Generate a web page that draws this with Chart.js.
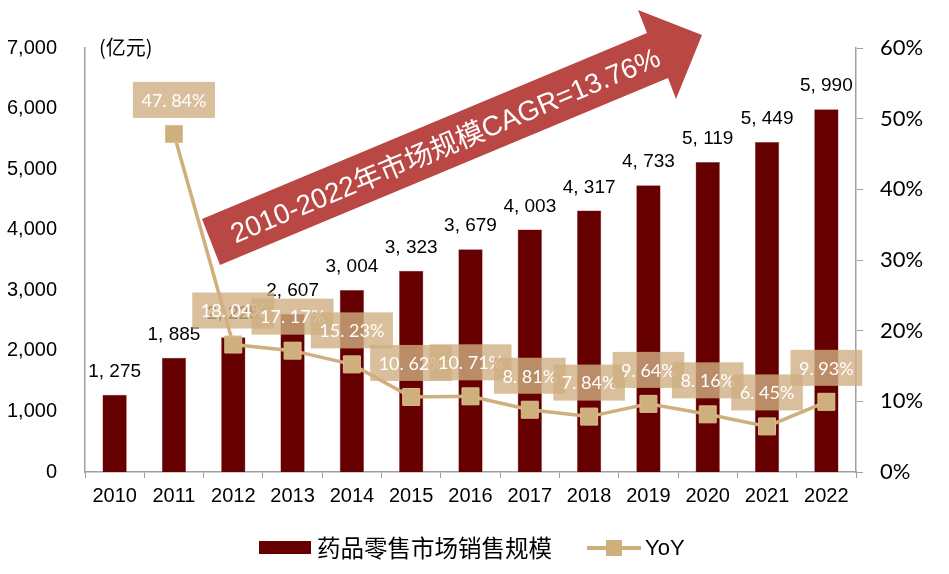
<!DOCTYPE html>
<html>
<head>
<meta charset="utf-8">
<script src="https://cdn.jsdelivr.net/npm/chart.js@4.4.1/dist/chart.umd.min.js"></script>
<style>
  body { margin: 0; background: #fff; }
</style>
</head>
<body>
<canvas id="mychart" width="949" height="574"></canvas>
<script>
const years = ['2010', '2011', '2012', '2013', '2014', '2015', '2016', '2017', '2018', '2019', '2020', '2021', '2022'];
const sales = [1275, 1885, 2225, 2607, 3004, 3323, 3679, 4003, 4317, 4733, 5119, 5449, 5990];
const yoy = [null, 47.84, 18.04, 17.17, 15.23, 10.62, 10.71, 8.81, 7.84, 9.64, 8.16, 6.45, 9.93];
const salesTicks = [0, 1000, 2000, 3000, 4000, 5000, 6000, 7000];
const yoyTicks = [0, 10, 20, 30, 40, 50, 60];

const barColor = '#660000';
const tan = '#CFAF7C';
const latin = '"Liberation Sans", Arial, sans-serif';
const cjk = '"Liberation Sans", "Noto Sans CJK SC", sans-serif';

// "1275" -> "1, 275", "47.84" -> "47. 84%"
const fmtSales = v => v.toLocaleString('en-US').replace(',', ', ');
const fmtYoy = v => v.toFixed(2).replace('.', '. ') + '%';

const labelPlugin = {
  id: 'labels',
  afterDatasetsDraw(chart) {
    const ctx = chart.ctx;
    const bars = chart.getDatasetMeta(1).data;
    const pts = chart.getDatasetMeta(0).data;

    // bar values
    ctx.save();
    ctx.font = '19px ' + latin;
    ctx.fillStyle = '#000';
    ctx.textAlign = 'center';
    ctx.textBaseline = 'alphabetic';
    bars.forEach((b, i) => ctx.fillText(fmtSales(sales[i]), b.x, b.y - 18));
    ctx.restore();

    // yoy boxes
    ctx.save();
    ctx.font = '18px Lato, sans-serif';
    ctx.textAlign = 'center';
    ctx.textBaseline = 'middle';
    pts.forEach((p, i) => {
      if (yoy[i] == null) return;
      const txt = fmtYoy(yoy[i]);
      const w = ctx.measureText(txt).width + 17;
      const h = 36;
      const cy = p.y - 34;
      ctx.fillStyle = 'rgba(207, 175, 130, 0.8)';
      ctx.fillRect(p.x - w / 2, cy - h / 2, w, h);
      ctx.fillStyle = '#fff';
      ctx.fillText(txt, p.x, cy + 1);
    });
    ctx.restore();

    // CAGR arrow
    ctx.save();
    ctx.fillStyle = '#B94744';
    ctx.beginPath();
    ctx.moveTo(202, 219);
    ctx.lineTo(647, 33);
    ctx.lineTo(638, 10);
    ctx.lineTo(702, 35);
    ctx.lineTo(676, 99);
    ctx.lineTo(668, 78);
    ctx.lineTo(220, 265);
    ctx.closePath();
    ctx.fill();
    ctx.translate(446, 147);
    ctx.rotate(-Math.atan2(187, 446));
    const msg = '2010-2022年市场规模CAGR=13.76%';
    let size = 27;
    ctx.font = size + 'px ' + cjk;
    size = size * 462 / ctx.measureText(msg).width;
    ctx.font = size.toFixed(1) + 'px ' + cjk;
    ctx.fillStyle = '#fff';
    ctx.textAlign = 'center';
    ctx.textBaseline = 'middle';
    ctx.fillText(msg, 0, 0);
    ctx.restore();
  },
  afterDraw(chart) {
    const ctx = chart.ctx;
    ctx.save();
    // unit label
    ctx.font = '20px "Noto Sans CJK SC", sans-serif';
    ctx.fillStyle = '#000';
    ctx.textBaseline = 'middle';
    ctx.fillText('(亿元)', 99, 47);

    // legend
    const ly = 548;
    ctx.fillStyle = barColor;
    ctx.fillRect(259, ly - 7, 52, 13);
    ctx.fillStyle = '#000';
    ctx.font = '23.5px "Noto Sans CJK SC", sans-serif';
    ctx.fillText('药品零售市场销售规模', 317, ly);
    ctx.strokeStyle = tan;
    ctx.lineWidth = 4;
    ctx.beginPath();
    ctx.moveTo(587, ly);
    ctx.lineTo(641, ly);
    ctx.stroke();
    ctx.fillStyle = tan;
    ctx.fillRect(606, ly - 8, 16, 16);
    ctx.fillStyle = '#000';
    ctx.font = '22px ' + latin;
    ctx.fillText('YoY', 645, ly + 1);
    ctx.restore();
  }
};

new Chart(document.getElementById('mychart'), {
  type: 'bar',
  data: {
    labels: years,
    datasets: [{
      type: 'line',
      label: 'YoY',
      data: yoy,
      yAxisID: 'y1',
      borderColor: tan,
      borderWidth: 3.5,
      pointStyle: 'rect',
      pointRadius: 12,
      pointBackgroundColor: tan,
      pointBorderColor: '#D8BE92',
      pointBorderWidth: 1,
      tension: 0,
      order: 0
    }, {
      label: '药品零售市场销售规模',
      data: sales,
      yAxisID: 'y',
      backgroundColor: barColor,
      borderColor: '#8a4a4a',
      borderWidth: 0.5,
      categoryPercentage: 1,
      barPercentage: 0.41,
      order: 1
    }]
  },
  options: {
    responsive: false,
    animation: false,
    layout: { padding: { top: 48, bottom: 72, left: 0, right: 0 } },
    plugins: {
      legend: { display: false },
      tooltip: { enabled: false }
    },
    scales: {
      x: {
        afterFit: s => { s.height = 30; },
        grid: { drawOnChartArea: false, tickLength: 6, color: '#A0A0A0', offset: true },
        border: { color: '#A0A0A0', width: 1.5 },
        ticks: { color: '#000', font: { size: 20, family: latin }, padding: 6, maxRotation: 0 }
      },
      y: {
        position: 'left',
        min: 0,
        max: 7000,
        afterFit: s => { s.width = 85; },
        afterBuildTicks: s => { s.ticks = salesTicks.map(v => ({ value: v })); },
        grid: { display: false },
        border: { color: '#A0A0A0', width: 1.5 },
        ticks: {
          color: '#000',
          font: { size: 20, family: latin },
          padding: 20,
          callback: v => v.toLocaleString('en-US')
        }
      },
      y1: {
        position: 'right',
        min: 0,
        max: 60,
        afterFit: s => { s.width = 93; },
        afterBuildTicks: s => { s.ticks = yoyTicks.map(v => ({ value: v })); },
        grid: { drawOnChartArea: false, tickLength: 7, color: '#A0A0A0' },
        border: { color: '#A0A0A0', width: 1.5 },
        ticks: {
          color: '#000',
          font: { size: 22, family: 'Lato, sans-serif' },
          padding: 17,
          callback: v => v + '%'
        }
      }
    }
  },
  plugins: [labelPlugin]
});
</script>
</body>
</html>
